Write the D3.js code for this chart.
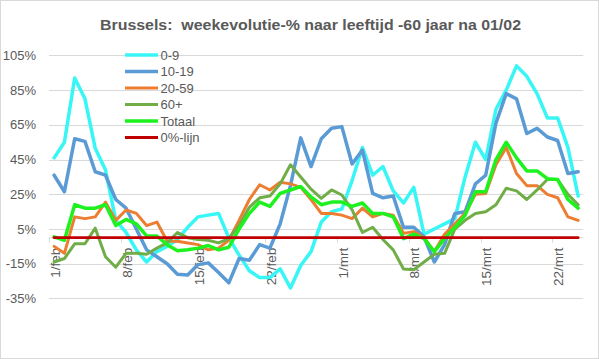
<!DOCTYPE html>
<html>
<head>
<meta charset="utf-8">
<script src="https://cdn.jsdelivr.net/npm/d3@7"></script>
<style>
  html, body { margin: 0; padding: 0; background: #fff; }
  svg { display: block; }
  text { font-family: "Liberation Sans", Arial, sans-serif; fill: #595959; }
</style>
</head>
<body>
<div id="chart"></div>
<script>
const titleText = "Brussels:  weekevolutie-% naar leeftijd -60 jaar na 01/02";

const categories = [
  "1/feb","2/feb","3/feb","4/feb","5/feb","6/feb","7/feb","8/feb","9/feb","10/feb",
  "11/feb","12/feb","13/feb","14/feb","15/feb","16/feb","17/feb","18/feb","19/feb","20/feb",
  "21/feb","22/feb","23/feb","24/feb","25/feb","26/feb","27/feb","28/feb",
  "1/mrt","2/mrt","3/mrt","4/mrt","5/mrt","6/mrt","7/mrt","8/mrt","9/mrt","10/mrt",
  "11/mrt","12/mrt","13/mrt","14/mrt","15/mrt","16/mrt","17/mrt","18/mrt","19/mrt","20/mrt",
  "21/mrt","22/mrt","23/mrt","24/mrt"
];
const xTickLabels = ["1/feb","8/feb","15/feb","22/feb","1/mrt","8/mrt","15/mrt","22/mrt"];
const yTicks = [-35, -15, 5, 25, 45, 65, 85, 105];

const age0_9 = [46,55,92,80,51.5,39,10,3,-7,-14,-8,-5,-1,6,12,13,14,0,-10,-19,-23,-23,-18,-29,-16,-8,9,15,16.5,33,52,36,41,27,20,29,2,5,8,11,35,55,45,74,85,99,93,83,69,69,52,24];
const age10_19 = [36,26.5,57,55.5,38,36,22,17,5,-7,-11,-15,-21,-21.5,-15.5,-14.5,-20,-26,-12,-13,-4,-6,8,30,57.5,41,57,63,64,42.5,50.5,25.5,23,24,6,6,0.5,-14,-4,14,15,31,36,66,83,80,60,63,58,56,37,38];
const age20_59 = [-5,-9,12,11,12,20.5,10,16,14,7,9,-2,-2,-3,-4,-7,-6,-1.5,10,22,30.5,27.5,32,31,29,22,14,14,13,11,17,12,14,13,2.5,3.5,0,-8,2,8,14,25,25.5,42,52,37,30,30,25,23,12,10];
const age60 = [-14,-12,-3.5,-3.5,5.5,-11,-17,-9,-9,-9.5,-6,-3,3,0,-1,-1.5,-3,-0.5,7,17.5,23,24,31,42,35,28,22.7,27.5,24.6,16,3,6,-1,-7,-18,-18.5,-14,-9.5,-9,5,10,14,15,19,28.5,27,22,27.5,33.5,33.5,25,19];
const totaal = [0.5,-1.5,19,17,17,19,7,10.5,8,1,1,-4,-7.5,-7,-6,-4.5,-7,-5.5,5,14,20.5,18,25.5,27.5,29.5,23.5,19,20.5,20.5,18,20,14,14,12,-0.5,2,-0.5,-8,-0.5,6,13,26.5,26.5,45,55,46,38.5,38.5,34,33.5,22,17];
const nulLijn = categories.map(() => 0);

const seriesNames = ["0-9","10-19","20-59","60+","Totaal","0%-lijn"];
const seriesColors = ["#38F6F6","#5B9BD5","#ED7D31","#70AD47","#1EF21E","#C00000"];
const seriesWidths = [3.5, 3.5, 3, 3, 3.5, 2.8];
const seriesValues = [age0_9, age10_19, age20_59, age60, totaal, nulLijn];

const W = 599, H = 359;
const svg = d3.select("#chart").append("svg").attr("width", W).attr("height", H);
svg.append("rect").attr("x", 0).attr("y", 0).attr("width", W).attr("height", H).attr("fill", "#fff");
svg.append("rect").attr("x", 0.5).attr("y", 0.5).attr("width", W - 1).attr("height", H - 1)
  .attr("fill", "none").attr("stroke", "#D9D9D9");

const plot = { left: 49, right: 583.3, top: 55.45, bottom: 298.45 };

const x = d3.scalePoint().domain(categories).range([plot.left, plot.right]).padding(0.5);
const step = x.step();
const y = d3.scaleLinear().domain([-35, 105]).range([plot.bottom, plot.top]);

// gridlines
svg.append("g").selectAll("line").data(yTicks).join("line")
  .attr("x1", plot.left).attr("x2", plot.right)
  .attr("y1", d => Math.round(y(d)) + 0.5).attr("y2", d => Math.round(y(d)) + 0.5)
  .attr("stroke", "#D9D9D9").attr("stroke-width", 1);

// y labels
svg.append("g").selectAll("text").data(yTicks).join("text")
  .attr("x", 36).attr("y", d => y(d)).attr("dy", "0.35em")
  .attr("text-anchor", "end").style("font-size", "13px")
  .text(d => d + "%");

// x axis at 0
const y0 = y(0);
svg.append("line").attr("x1", plot.left).attr("x2", plot.right)
  .attr("y1", y0).attr("y2", y0).attr("stroke", "#D9D9D9");
svg.append("g").selectAll("line").data(xTickLabels).join("line")
  .attr("x1", d => Math.round(x(d) - step / 2) + 0.5).attr("x2", d => Math.round(x(d) - step / 2) + 0.5)
  .attr("y1", y0).attr("y2", y0 + 5).attr("stroke", "#D9D9D9");
svg.append("g").selectAll("text").data(xTickLabels).join("text")
  .attr("transform", d => `translate(${x(d) + 1},${y0 + 10}) rotate(-90)`)
  .attr("dy", "0.35em").attr("text-anchor", "end").style("font-size", "13.5px")
  .text(d => d);

// lines
const line = d3.line().x((d, i) => x(categories[i])).y(d => y(d));
svg.append("g").selectAll("path").data(seriesValues).join("path")
  .attr("d", d => line(d))
  .attr("fill", "none")
  .attr("stroke", (d, i) => seriesColors[i])
  .attr("stroke-width", (d, i) => seriesWidths[i])
  .attr("stroke-linejoin", "round").attr("stroke-linecap", "round");

// legend
const lg = svg.append("g");
seriesNames.forEach((name, i) => {
  const ly = 55 + i * 16.5;
  lg.append("line").attr("x1", 125).attr("x2", 158).attr("y1", ly).attr("y2", ly)
    .attr("stroke", seriesColors[i]).attr("stroke-width", seriesWidths[i]);
  lg.append("text").attr("x", 160.5).attr("y", ly).attr("dy", "0.35em")
    .style("font-size", "13px").text(name);
});

// title
svg.append("text").attr("x", 310.5).attr("y", 30).attr("text-anchor", "middle")
  .style("font-size", "14.5px").style("font-weight", "bold")
  .style("white-space", "pre").attr("xml:space", "preserve")
  .attr("textLength", 421).attr("lengthAdjust", "spacingAndGlyphs")
  .text(titleText);
</script>
</body>
</html>
